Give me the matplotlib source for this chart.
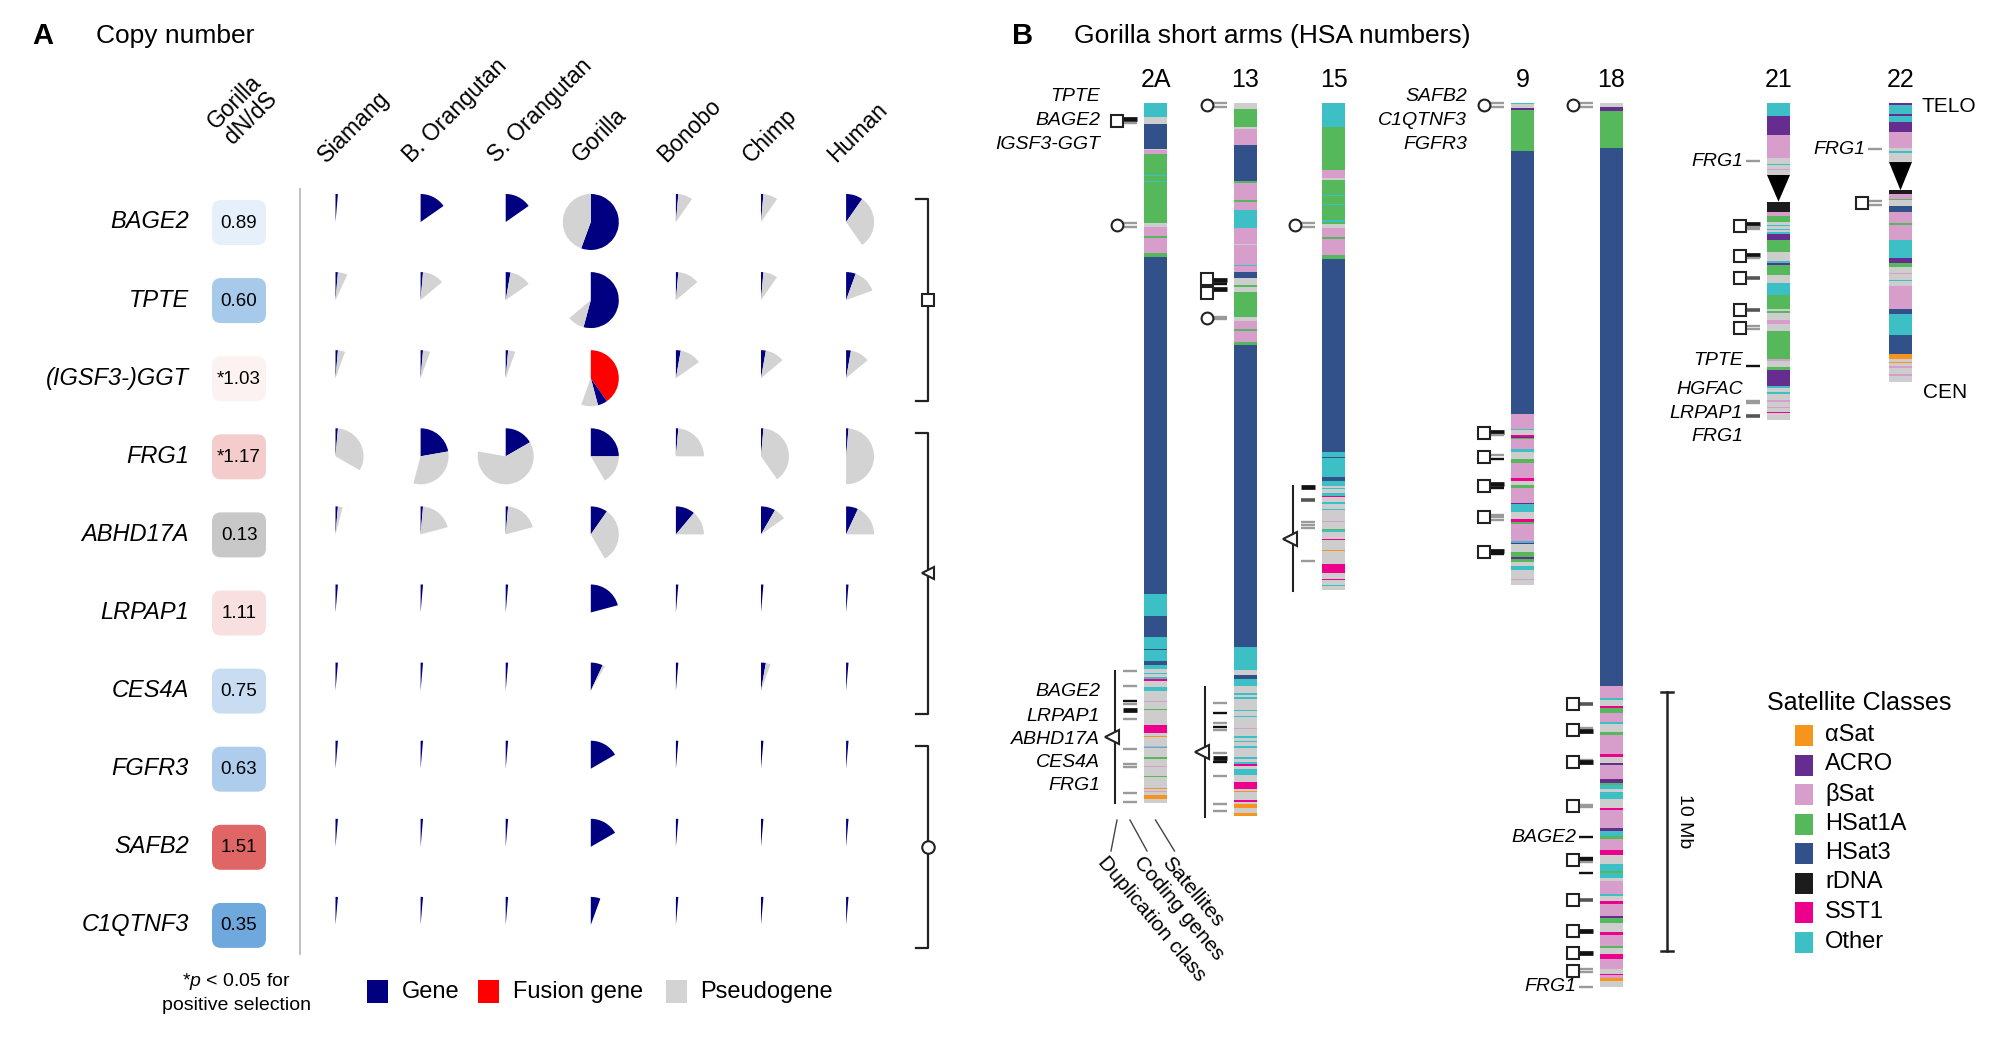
import matplotlib
matplotlib.use("Agg")
import matplotlib.pyplot as plt
from matplotlib.patches import Wedge, Rectangle, FancyBboxPatch, Polygon

plt.rcParams['font.family'] = ['Liberation Sans', 'DejaVu Sans']
plt.rcParams['mathtext.fontset'] = 'custom'
plt.rcParams['mathtext.it'] = 'Liberation Sans:italic'
plt.rcParams['mathtext.rm'] = 'Liberation Sans'

# ======================= DATA: panel A =======================
genes = ['BAGE2', 'TPTE', '(IGSF3-)GGT', 'FRG1', 'ABHD17A', 'LRPAP1',
         'CES4A', 'FGFR3', 'SAFB2', 'C1QTNF3']
dnds_text = ['0.89', '0.60', '*1.03', '*1.17', '0.13', '1.11', '0.75',
             '0.63', '1.51', '0.35']
dnds_colors = ['#e6f0fa', '#a7c9ea', '#fdf2f2', '#f4cccc', '#c8c8c8',
               '#f9e0e0', '#c9ddf2', '#aecdec', '#e06666', '#6fa8dc']
species = ['Siamang', 'B. Orangutan', 'S. Orangutan', 'Gorilla', 'Bonobo',
           'Chimp', 'Human']
# copy numbers (rows = genes, columns = species)
gene_copies = [
    [1, 11, 11, 40, 1, 1, 7],
    [1, 1, 2, 39, 1, 1, 4],
    [1, 1, 1, 4, 2, 2, 2],
    [1, 16, 12, 18, 1, 1, 1],
    [1, 1, 1, 7, 8, 6, 5],
    [1, 1, 1, 15, 1, 1, 1],
    [1, 1, 1, 5, 1, 2, 1],
    [1, 1, 1, 12, 1, 1, 1],
    [1, 1, 1, 12, 1, 1, 1],
    [1, 1, 1, 4, 1, 1, 1],
]
fusion_copies = [
    [0] * 7, [0] * 7,
    [0, 0, 0, 29, 0, 0, 0],
    [0] * 7, [0] * 7, [0] * 7, [0] * 7, [0] * 7, [0] * 7, [0] * 7,
]
pseudo_copies = [
    [0, 0, 0, 32, 6, 6, 22],
    [4, 9, 9, 7, 9, 6, 10],
    [3, 3, 3, 7, 9, 8, 8],
    [23, 23, 44, 12, 17, 28, 35],
    [2, 14, 14, 23, 10, 5, 13],
    [0, 0, 0, 0, 0, 0, 0],
    [0, 0, 0, 1, 0, 2, 0],
    [0] * 7, [0] * 7, [0] * 7,
]
dup_groups = [(0, 2, 's'), (3, 6, '<'), (7, 9, 'o')]
copy_legend = ['Gene', 'Fusion gene', 'Pseudogene']
copy_colors = ['#000080', '#ff0000', '#d3d3d3']

# ======================= DATA: panel B =======================
sat_names = ['αSat', 'ACRO', 'βSat', 'HSat1A', 'HSat3', 'rDNA', 'SST1', 'Other']
sat_codes = ['a', 'c', 'b', 'h1', 'h3', 'r', 's', 'o']
sat_colors = ['#f7941d', '#662d91', '#d89ecb', '#55b85a', '#32508a',
              '#1c1c1c', '#ec008c', '#3cbfc5']
unclassified_color = '#cdcdcd'

chrom_names = ['2A', '13', '15', '9', '18', '21', '22']

# bands: (class, length in Mb), from the telomere down to the centromere
bands_2A = [('o', 0.54), ('n', 0.26), ('h3', 0.97), ('n', 0.06), ('b', 0.15), ('h1', 0.80), ('o', 0.03),
            ('h1', 0.22), ('o', 0.03), ('h1', 1.57), ('n', 0.17), ('b', 0.35), ('h1', 0.06), ('b', 0.60),
            ('h1', 0.14), ('h3', 13.02), ('o', 0.85), ('h3', 0.81), ('o', 0.45), ('h3', 0.04), ('o', 0.44),
            ('h3', 0.15), ('o', 0.15), ('n', 0.13), ('o', 0.06), ('n', 0.13), ('o', 0.06), ('s', 0.06),
            ('n', 0.26), ('o', 0.13), ('n', 0.39), ('b', 0.04), ('n', 0.26), ('h1', 0.05), ('n', 0.59),
            ('s', 0.31), ('n', 0.10), ('a', 0.04), ('n', 0.35), ('b', 0.05), ('o', 0.05), ('n', 0.35),
            ('h1', 0.06), ('n', 0.26), ('b', 0.04), ('n', 0.35), ('h1', 0.06), ('n', 0.39), ('a', 0.04),
            ('n', 0.09), ('b', 0.04), ('n', 0.13), ('a', 0.13), ('n', 0.18)]
bands_13 = [('n', 0.22), ('h1', 0.71), ('n', 0.06), ('b', 0.64), ('h3', 1.38), ('h1', 0.08), ('b', 0.67),
            ('h1', 0.08), ('b', 0.28), ('o', 0.69), ('b', 0.64), ('n', 0.05), ('b', 0.76), ('o', 0.03),
            ('b', 0.22), ('h3', 0.26), ('n', 0.26), ('h1', 0.09), ('n', 0.17), ('h1', 0.97), ('n', 0.15),
            ('b', 0.33), ('h1', 0.05), ('b', 0.44), ('h1', 0.13), ('h3', 11.64), ('o', 0.89), ('n', 0.19),
            ('h3', 0.15), ('o', 0.27), ('n', 0.28), ('o', 0.06), ('n', 0.09), ('o', 0.08), ('n', 0.41),
            ('o', 0.06), ('n', 0.19), ('o', 0.05), ('n', 0.40), ('b', 0.04), ('n', 0.28), ('o', 0.06),
            ('n', 0.13), ('o', 0.05), ('n', 0.14), ('o', 0.08), ('n', 0.37), ('o', 0.04), ('n', 0.15),
            ('o', 0.06), ('s', 0.06), ('n', 0.13), ('o', 0.23), ('n', 0.28), ('s', 0.26), ('n', 0.10),
            ('a', 0.04), ('n', 0.31), ('s', 0.04), ('n', 0.09), ('a', 0.15), ('n', 0.21), ('a', 0.09)]
bands_15 = [('o', 0.93), ('h1', 1.67), ('b', 0.28), ('n', 0.08), ('h1', 0.60), ('o', 0.03), ('h1', 0.30),
            ('o', 0.03), ('h1', 0.61), ('o', 0.05), ('h1', 0.08), ('n', 0.17), ('b', 0.35), ('h1', 0.06),
            ('b', 0.64), ('h1', 0.13), ('h3', 7.46), ('o', 0.19), ('h3', 0.06), ('o', 0.71), ('h3', 0.15),
            ('o', 0.21), ('n', 0.06), ('o', 0.06), ('n', 0.13), ('o', 0.13), ('s', 0.06), ('n', 0.19),
            ('o', 0.06), ('n', 0.19), ('o', 0.06), ('n', 0.39), ('b', 0.06), ('n', 0.26), ('h1', 0.06),
            ('o', 0.06), ('n', 0.26), ('s', 0.06), ('n', 0.39), ('a', 0.04), ('n', 0.48), ('s', 0.36),
            ('n', 0.22), ('s', 0.06), ('n', 0.19), ('o', 0.04), ('n', 0.15)]
bands_9 = [('o', 0.05), ('n', 0.13), ('c', 0.10), ('h1', 1.57), ('h3', 10.14), ('b', 0.58), ('o', 0.06),
           ('n', 0.19), ('s', 0.06), ('c', 0.04), ('h1', 0.06), ('b', 0.39), ('o', 0.09), ('n', 0.30),
           ('h1', 0.13), ('b', 0.58), ('s', 0.13), ('n', 0.13), ('h1', 0.13), ('b', 0.58), ('c', 0.06),
           ('o', 0.30), ('n', 0.28), ('s', 0.09), ('h1', 0.10), ('b', 0.64), ('o', 0.06), ('c', 0.06),
           ('n', 0.32), ('h1', 0.19), ('c', 0.06), ('h1', 0.13), ('n', 0.13), ('o', 0.19), ('n', 0.32),
           ('b', 0.06), ('n', 0.19)]
bands_18 = [('n', 0.15), ('c', 0.15), ('h1', 1.42), ('h3', 20.78), ('b', 0.48), ('o', 0.06), ('n', 0.23),
            ('s', 0.10), ('h1', 0.18), ('b', 0.36), ('o', 0.05), ('n', 0.33), ('h1', 0.10), ('b', 0.76),
            ('s', 0.09), ('n', 0.23), ('c', 0.10), ('b', 0.54), ('c', 0.13), ('h1', 0.08), ('o', 0.18),
            ('n', 0.09), ('o', 0.30), ('n', 0.32), ('s', 0.09), ('b', 0.68), ('c', 0.13), ('o', 0.19),
            ('h1', 0.10), ('b', 0.44), ('s', 0.21), ('n', 0.35), ('o', 0.26), ('h1', 0.06), ('o', 0.19),
            ('n', 0.13), ('b', 0.51), ('o', 0.06), ('n', 0.19), ('s', 0.13), ('b', 0.45), ('c', 0.10),
            ('h1', 0.18), ('n', 0.36), ('s', 0.10), ('b', 0.41), ('h1', 0.10), ('n', 0.22), ('s', 0.19),
            ('b', 0.39), ('n', 0.19), ('s', 0.06), ('b', 0.10), ('a', 0.13), ('n', 0.22)]
bands_21 = [('o', 0.51), ('c', 0.73), ('b', 0.90), ('n', 0.22), ('o', 0.05), ('n', 0.15), ('b', 0.04),
            ('n', 0.18), ('tri', 1.03), ('r', 0.39), ('b', 0.17), ('h1', 0.22), ('n', 0.12), ('o', 0.04),
            ('n', 0.12), ('o', 0.04), ('n', 0.07), ('o', 0.06), ('c', 0.26), ('h1', 0.45), ('n', 0.35),
            ('o', 0.08), ('c', 0.09), ('h1', 0.39), ('n', 0.30), ('o', 0.44), ('h1', 0.55), ('n', 0.09),
            ('h1', 0.08), ('n', 0.26), ('b', 0.15), ('n', 0.26), ('h1', 1.09), ('b', 0.09), ('n', 0.23),
            ('h1', 0.09), ('c', 0.62), ('o', 0.10), ('n', 0.15), ('o', 0.09), ('n', 0.23), ('b', 0.06),
            ('n', 0.19), ('b', 0.06), ('n', 0.13), ('s', 0.06), ('n', 0.26)]
bands_22 = [('c', 0.06), ('o', 0.37), ('c', 0.08), ('o', 0.22), ('c', 0.39), ('b', 0.60), ('n', 0.13),
            ('o', 0.08), ('n', 0.35), ('tri', 1.09), ('r', 0.13), ('b', 0.19), ('h1', 0.06), ('n', 0.23),
            ('h3', 0.22), ('b', 0.45), ('h1', 0.06), ('b', 0.58), ('o', 0.68), ('c', 0.22), ('h1', 0.13),
            ('n', 0.25), ('b', 0.04), ('n', 0.22), ('o', 0.06), ('n', 0.19), ('b', 0.87), ('h3', 0.18),
            ('o', 0.81), ('h3', 0.77), ('a', 0.17), ('n', 0.13), ('a', 0.03), ('n', 0.12), ('b', 0.06),
            ('n', 0.26), ('b', 0.06), ('n', 0.23)]

# duplication-class markers: (position Mb, class symbol)
dup_marks_2A = [(0.69, 's'), (4.71, 'o')]
dup_marks_13 = [(0.08, 'o'), (6.80, 's'), (7.34, 's'), (8.30, 'o')]
dup_marks_15 = [(4.71, 'o')]
dup_marks_9 = [(0.08, 'o'), (12.74, 's'), (13.67, 's'), (14.79, 's'), (15.98, 's'), (17.34, 's')]
dup_marks_18 = [(0.08, 'o'), (23.2, 's'), (24.2, 's'), (25.44, 's'), (27.14, 's'), (29.23, 's'),
                (30.77, 's'), (31.97, 's'), (32.82, 's'), (33.51, 's')]
dup_marks_21 = [(4.75, 's'), (5.91, 's'), (6.76, 's'), (7.99, 's'), (8.69, 's')]
dup_marks_22 = [(3.86, 's')]
# duplication-class spans (start Mb, end Mb) with the triangle class
dup_span_2A = (21.93, 27.03)
dup_span_13 = (22.55, 27.57)
dup_span_15 = (14.79, 18.84)

# coding genes: (position Mb, style) K thick black, k black, d dark grey, g grey
genes_2A = [(0.62, 'K'), (0.77, 'g'), (4.63, 'g'), (4.79, 'g'), (21.92, 'g'), (22.5, 'g'), (23.09, 'k'),
            (23.2, 'g'), (23.42, 'K'), (23.77, 'g'), (24.93, 'g'), (25.52, 'g'), (25.65, 'g'),
            (26.65, 'g'), (27.0, 'g')]
genes_13 = [(0.0, 'g'), (0.15, 'g'), (6.85, 'K'), (6.98, 'k'), (7.19, 'K'), (8.25, 'g'), (8.35, 'g'),
            (23.18, 'g'), (23.54, 'k'), (23.95, 'g'), (24.08, 'k'), (24.21, 'g'), (25.08, 'g'),
            (25.3, 'K'), (25.43, 'k'), (25.98, 'g'), (27.07, 'g'), (27.32, 'g')]
genes_15 = [(4.63, 'g'), (4.79, 'g'), (14.81, 'K'), (15.33, 'd'), (16.16, 'g'), (16.29, 'g'),
            (16.4, 'g'), (17.67, 'g')]
genes_9 = [(0.0, 'g'), (0.15, 'g'), (12.7, 'K'), (12.82, 'g'), (13.6, 'g'), (13.74, 'k'), (14.72, 'K'),
           (14.86, 'k'), (15.9, 'g'), (16.0, 'g'), (16.1, 'g'), (17.3, 'K'), (17.4, 'k')]
genes_18 = [(0.0, 'g'), (0.15, 'g'), (23.2, 'd'), (24.14, 'g'), (24.26, 'K'), (25.36, 'g'), (25.46, 'K'),
            (27.1, 'g'), (27.2, 'g'), (28.34, 'k'), (29.15, 'k'), (29.23, 'k'), (29.31, 'g'),
            (29.73, 'k'), (30.77, 'd'), (31.97, 'K'), (32.82, 'K'), (33.45, 'g'), (33.57, 'g'),
            (34.13, 'g')]
genes_21 = [(2.24, 'g'), (4.69, 'K'), (4.8, 'g'), (4.88, 'g'), (5.85, 'K'), (5.93, 'k'), (6.0, 'g'),
            (6.76, 'd'), (7.99, 'd'), (8.62, 'g'), (8.72, 'g'), (10.15, 'k'), (11.5, 'g'),
            (11.58, 'g'), (12.1, 'd')]
genes_22 = [(1.78, 'g'), (3.8, 'g'), (3.92, 'g')]

# gene labels: (position Mb, name)
far_labels_2A = [(-0.27, 'TPTE'), (0.66, 'BAGE2'), (1.62, 'IGSF3-GGT'), (22.74, 'BAGE2'),
                 (23.67, 'LRPAP1'), (24.56, 'ABHD17A'), (25.48, 'CES4A'), (26.37, 'FRG1')]
far_labels_9 = [(-0.27, 'SAFB2'), (0.66, 'C1QTNF3'), (1.62, 'FGFR3')]
near_labels_18 = [(28.34, 'BAGE2'), (34.13, 'FRG1')]
near_labels_21 = [(2.24, 'FRG1'), (9.96, 'TPTE'), (11.08, 'HGFAC'), (11.97, 'LRPAP1'), (12.86, 'FRG1')]
near_labels_22 = [(1.78, 'FRG1')]
scale_bar_mb = 10
scale_bar_start = 22.74
column_legend = ['Duplication class', 'Coding genes', 'Satellites']

# ======================= FIGURE =======================
fig = plt.figure(figsize=(20, 10.45), dpi=100)
ax = fig.add_axes([0, 0, 1, 1])
ax.set_xlim(0, 2000)
ax.set_ylim(1045, 0)
ax.axis('off')

INK = '#222222'

# ---------- panel A ----------
ROW_Y0, ROW_DY = 222, 78.1
COL_X0, COL_DX = 335.5, 85.1
PIE_R = 28
DEG = 5.0

ax.text(32, 36, 'A', fontsize=21, fontweight='bold', ha='left', va='center')
ax.text(96, 36, 'Copy number', fontsize=19, ha='left', va='center')
ax.text(243, 110, 'Gorilla\ndN/dS', fontsize=16.5, rotation=45, ha='center', va='center',
        multialignment='center', linespacing=1.0)
for j, sp in enumerate(species):
    x = COL_X0 + j * COL_DX
    ax.text(x - 6, 167, sp, fontsize=16.5, rotation=45, rotation_mode='anchor',
            ha='left', va='bottom')

ax.plot([300, 300], [189, 954], color='#bbbbbb', lw=1.3)

for i, g in enumerate(genes):
    y = ROW_Y0 + i * ROW_DY
    ax.text(189, y, g, fontsize=17, style='italic', ha='right', va='center')
    ax.add_patch(FancyBboxPatch((239 - 27 + 9, y - 22 + 9), 54 - 18, 45 - 18,
                                boxstyle='round,pad=9', fc=dnds_colors[i], ec='none'))
    ax.text(239, y + 1, dnds_text[i], fontsize=13.5, ha='center', va='center')
    for j in range(len(species)):
        x = COL_X0 + j * COL_DX
        a = 0
        for counts, col in ((fusion_copies, copy_colors[1]), (gene_copies, copy_colors[0]),
                            (pseudo_copies, copy_colors[2])):
            n = counts[i][j]
            if n > 0:
                ax.add_patch(Wedge((x, y), PIE_R, 270 + a * DEG, 270 + (a + n) * DEG,
                                   fc=col, ec='none', lw=0))
                a += n

mk = {'s': 's', 'o': 'o', '<': '<'}
for r0, r1, kind in dup_groups:
    yt = ROW_Y0 + r0 * ROW_DY - 23
    yb = ROW_Y0 + r1 * ROW_DY + 23
    ax.plot([916, 928, 928, 916], [yt, yt, yb, yb], color=INK, lw=1.6)
    ax.plot(928, (yt + yb) / 2, marker=mk[kind], ms=9, mfc='white', mec=INK, mew=1.5)

ax.text(236, 982, '*$p$ < 0.05 for', fontsize=14, ha='center', va='center')
ax.text(236, 1005, 'positive selection', fontsize=14, ha='center', va='center')
for (sx, tx), lab, col in zip([(367, 402), (478, 513), (666, 700)], copy_legend, copy_colors):
    ax.add_patch(Rectangle((sx, 980), 21, 23, fc=col, ec='none'))
    ax.text(tx, 992, lab, fontsize=17, ha='left', va='center')

# ---------- panel B ----------
TOP, PX_PER_MB, BAR_W = 103, 25.9, 23
chrom_x = [1144, 1234, 1322, 1511, 1600, 1767, 1889]


def mb2y(mb):
    return TOP + mb * PX_PER_MB


ax.text(1012, 36, 'B', fontsize=21, fontweight='bold', ha='left', va='center')
ax.text(1074, 36, 'Gorilla short arms (HSA numbers)', fontsize=19, ha='left', va='center')

color_of = dict(zip(sat_codes, sat_colors))
color_of['n'] = unclassified_color

all_bands = [bands_2A, bands_13, bands_15, bands_9, bands_18, bands_21, bands_22]
all_marks = [dup_marks_2A, dup_marks_13, dup_marks_15, dup_marks_9, dup_marks_18, dup_marks_21, dup_marks_22]
all_genes = [genes_2A, genes_13, genes_15, genes_9, genes_18, genes_21, genes_22]
far_labels = {'2A': far_labels_2A, '9': far_labels_9}
near_labels = {'18': near_labels_18, '21': near_labels_21, '22': near_labels_22}
dup_spans = {'2A': dup_span_2A, '13': dup_span_13, '15': dup_span_15}
tick_style = {'K': ('#111111', 3.4), 'k': ('#111111', 1.7), 'd': ('#555555', 2.6), 'g': ('#9a9a9a', 1.7)}

for name, x0, bands, marks, gl in zip(chrom_names, chrom_x, all_bands, all_marks, all_genes):
    ax.text(x0 + BAR_W / 2, 80, name, fontsize=18, ha='center', va='center')
    pos = 0.0
    for code, length in bands:
        y0, y1 = mb2y(pos), mb2y(pos + length)
        if code == 'tri':
            ax.add_patch(Polygon([(x0, y0), (x0 + BAR_W, y0), (x0 + BAR_W / 2, y1)],
                                 closed=True, fc='black', ec='none'))
        else:
            ax.add_patch(Rectangle((x0, y0), BAR_W, y1 - y0, fc=color_of[code], ec='none', lw=0))
        pos += length
    for mb, st in gl:
        c, lw = tick_style[st]
        ax.plot([x0 - 21, x0 - 7], [mb2y(mb)] * 2, color=c, lw=lw, solid_capstyle='butt')
    for mb, kind in marks:
        ax.plot(x0 - 27, mb2y(mb), marker=mk[kind], ms=8.5, mfc='white', mec=INK, mew=1.5)
    if name in dup_spans:
        s0, s1 = dup_spans[name]
        ax.plot([x0 - 29, x0 - 29], [mb2y(s0), mb2y(s1)], color=INK, lw=1.5)
        ax.plot(x0 - 32, mb2y((s0 + s1) / 2), marker='<', ms=10, mfc='white', mec=INK, mew=1.5)
    for mb, lab in far_labels.get(name, []):
        ax.text(x0 - 44, mb2y(mb), lab, fontsize=14, style='italic', ha='right', va='center')
    for mb, lab in near_labels.get(name, []):
        ax.text(x0 - 24, mb2y(mb), lab, fontsize=14, style='italic', ha='right', va='center')

# scale bar on 18
sbx = 1667
ya, yb = mb2y(scale_bar_start), mb2y(scale_bar_start + scale_bar_mb)
ax.plot([sbx, sbx], [ya, yb], color=INK, lw=1.8)
ax.plot([sbx - 6, sbx + 6], [ya, ya], color=INK, lw=1.8)
ax.plot([sbx - 6, sbx + 6], [yb, yb], color=INK, lw=1.8)
ax.text(sbx + 18, (ya + yb) / 2, f'{scale_bar_mb} Mb', fontsize=14, rotation=-90,
        ha='center', va='center')

# TELO / CEN
ax.text(1921, 107, 'TELO', fontsize=15, ha='left', va='center')
ax.text(1923, 393, 'CEN', fontsize=15, ha='left', va='center')

# column legend under 2A
x2a = chrom_x[0]
starts = [x2a - 27, x2a - 14, x2a + BAR_W / 2]
dxs = [-6, 17, 19]
for sx, dx, lab in zip(starts, dxs, column_legend):
    ax.plot([sx, sx + dx], [820, 851], color='#444444', lw=1)
    ax.text(sx + dx - 2, 853, lab, fontsize=15, rotation=-50, rotation_mode='anchor',
            ha='left', va='top')

# satellite legend
ax.text(1859, 703, 'Satellite Classes', fontsize=18, ha='center', va='center')
for k, (lab, col) in enumerate(zip(sat_names, sat_colors)):
    yy = 735 + 29.5 * k
    ax.add_patch(Rectangle((1795, yy - 10), 18, 21, fc=col, ec='none'))
    ax.text(1825, yy, lab, fontsize=17, ha='left', va='center')

fig.savefig('out.png', dpi=100)
